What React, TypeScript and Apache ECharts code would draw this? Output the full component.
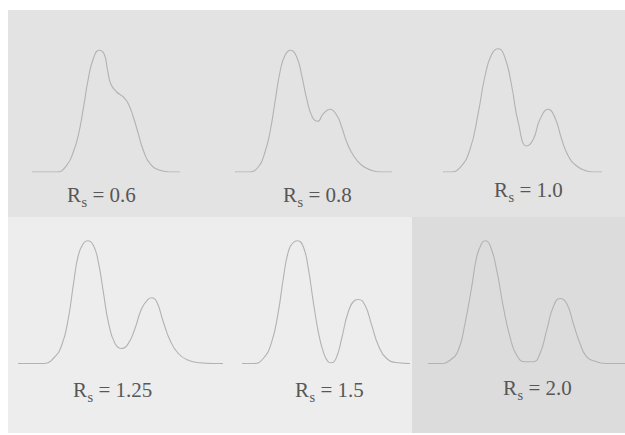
import React, { useEffect, useRef } from "react";
import * as echarts from "echarts";

// Retention "time" positions (page-aligned units) and signal heights
const p1x = [32, 56.7, 66.7, 73.3, 78.3, 83.3, 88.3, 93.3, 99, 104, 107.3, 110.7, 116.7, 123.3, 128.3, 133.3, 138.3, 143.3, 150, 160, 170, 180];
const p1h = [0, 0, 6.7, 20, 36.7, 63.3, 93.3, 113.3, 121.7, 118.3, 103.3, 88.3, 80, 75, 68.3, 55, 38.3, 21.7, 8.3, 1.7, 0, 0];

const p2x = [235, 248.3, 258.3, 265, 270, 275, 280, 285, 290.7, 296.7, 301.7, 306.7, 312.3, 317.7, 323.3, 330, 336.7, 341.7, 346.7, 353.3, 361.7, 371.7, 381.7, 392];
const p2h = [0, 0, 5, 20, 40, 70, 100, 116.7, 121.7, 115, 96.7, 73.3, 55, 50.7, 58.3, 62.7, 56.7, 45, 30, 16.7, 6.7, 1.7, 0, 0];

const p3x = [443, 450, 460, 470, 478.3, 485, 491.7, 498.3, 505, 511.7, 518.3, 526.7, 533.3, 540, 548.3, 555, 561.7, 568.3, 576.7, 586.7, 593.3, 602];
const p3h = [0, 0, 4.3, 22.7, 59.3, 96, 117.7, 123.3, 114.3, 86, 49.3, 26, 32.7, 52.7, 62.7, 54.3, 32.7, 16, 6, 1, 0, 0];

const p4x = [18, 43.3, 53.3, 61.7, 68.3, 73.3, 78.3, 83.3, 87.7, 93.3, 98.3, 103.3, 108.3, 115, 121.7, 128.3, 135, 141.7, 148.3, 151.7, 156.7, 163.3, 170, 178.3, 188.3, 200, 213.3, 223];
const p4h = [0, 0, 5, 18.3, 45, 78.3, 108.3, 120, 122.7, 118.3, 101.7, 71.7, 41.7, 20, 15, 20, 35, 55, 64.3, 65.7, 61.7, 41.7, 23.3, 10, 3.3, 0.7, 0, 0];

const p5x = [242, 253.3, 263.3, 271.7, 278.3, 283.3, 288.3, 293.3, 297.7, 303.3, 308.3, 313.3, 318.3, 323.3, 328.3, 331.7, 336.7, 341.7, 348.3, 355, 358.3, 365, 371.7, 378.3, 386.7, 398.3, 410];
const p5h = [0, 0, 5, 21.7, 51.7, 85, 111.7, 121, 122.7, 116.7, 95, 61.7, 31.7, 11.7, 1.7, 0.7, 6.7, 25, 51.7, 63.3, 64, 58.3, 38.3, 18.3, 5, 0.7, 0];

const p6x = [428, 440, 450, 458.3, 465, 471.7, 476.7, 481.7, 485, 490, 496.7, 503.3, 510, 516.7, 525, 533.3, 540, 546.7, 553.3, 560, 566.7, 573.3, 580, 586.7, 596.7, 606.7, 625];
const p6h = [0, 0, 3.3, 13.3, 40, 76.7, 106.7, 120, 122.7, 118.3, 93.3, 56.7, 26.7, 8.3, 1.7, 1.7, 10, 33.3, 56.7, 65, 60, 40, 20, 6.7, 1.7, 0, 0];

const rsValues = ["0.6", "0.8", "1.0", "1.25", "1.5", "2.0"];

// layout (not data)
const panels = [
  { xs: p1x, hs: p1h, row: 0 },
  { xs: p2x, hs: p2h, row: 0 },
  { xs: p3x, hs: p3h, row: 0 },
  { xs: p4x, hs: p4h, row: 1 },
  { xs: p5x, hs: p5h, row: 1 },
  { xs: p6x, hs: p6h, row: 1 },
];
const labelPos = [
  [67, 202],
  [283, 202],
  [494, 197],
  [73, 397],
  [295, 397],
  [503, 395],
];

const W = 625;
const H = 435;
const FONT_MAIN = 21;
const FONT_SUB = 14.5;
const FAMILY = '"Liberation Serif", "Times New Roman", serif';
const TEXT_COLOR = "#575757";
const LINE_COLOR = "#b2b2b2";

function measure(text: string, size: number): number {
  const c = document.createElement("canvas");
  const ctx = c.getContext("2d");
  if (!ctx) return text.length * size * 0.5;
  ctx.font = `${size}px ${FAMILY}`;
  return ctx.measureText(text).width;
}

export default function App() {
  const ref = useRef<HTMLDivElement>(null);
  useEffect(() => {
    if (!ref.current) return;
    const chart = echarts.init(ref.current, undefined, { renderer: "svg" });

    const wR = measure("R", FONT_MAIN);
    const wS = measure("s", FONT_SUB);

    const graphics: any[] = [
      { type: "rect", z: 0, shape: { x: 8, y: 10, width: 617, height: 207 }, style: { fill: "#e3e3e3" } },
      { type: "rect", z: 0, shape: { x: 8, y: 217, width: 404, height: 216 }, style: { fill: "#ededed" } },
      { type: "rect", z: 0, shape: { x: 412, y: 217, width: 213, height: 216 }, style: { fill: "#dcdcdc" } },
    ];
    // text is top-aligned; baseline sits ~0.825 * fontSize below the top
    const mainOff = FONT_MAIN * 0.825;
    const subOff = FONT_SUB * 0.825;
    rsValues.forEach((v, i) => {
      const [x0, yb] = labelPos[i];
      graphics.push({
        type: "text",
        z: 10,
        x: x0,
        y: yb - mainOff,
        style: { text: "R", font: `${FONT_MAIN}px ${FAMILY}`, fill: TEXT_COLOR, verticalAlign: "top" },
      });
      graphics.push({
        type: "text",
        z: 10,
        x: x0 + wR + 0.5,
        y: yb + 4.5 - subOff,
        style: { text: "s", font: `${FONT_SUB}px ${FAMILY}`, fill: TEXT_COLOR, verticalAlign: "top" },
      });
      graphics.push({
        type: "text",
        z: 10,
        x: x0 + wR + wS + 0.5,
        y: yb - mainOff,
        style: { text: " = " + v, font: `${FONT_MAIN}px ${FAMILY}`, fill: TEXT_COLOR, verticalAlign: "top" },
      });
    });

    const series = panels.map((p) => ({
      type: "line",
      xAxisIndex: p.row,
      yAxisIndex: p.row,
      data: p.xs.map((x, k) => [x, p.hs[k]]),
      showSymbol: false,
      smooth: 0.5,
      silent: true,
      z: 5,
      lineStyle: { color: LINE_COLOR, width: 1.1 },
    }));

    chart.setOption({
      animation: false,
      backgroundColor: "#ffffff",
      grid: [
        { left: 0, top: 42, width: W, height: 130 },
        { left: 0, top: 233.5, width: W, height: 130 },
      ],
      xAxis: [
        { type: "value", gridIndex: 0, min: 0, max: W, show: false },
        { type: "value", gridIndex: 1, min: 0, max: W, show: false },
      ],
      yAxis: [
        { type: "value", gridIndex: 0, min: 0, max: 130, show: false },
        { type: "value", gridIndex: 1, min: 0, max: 130, show: false },
      ],
      graphic: graphics,
      series,
    });
    return () => chart.dispose();
  }, []);
  return <div ref={ref} style={{ position: "absolute", left: 0, top: 0, width: W, height: H }} />;
}
